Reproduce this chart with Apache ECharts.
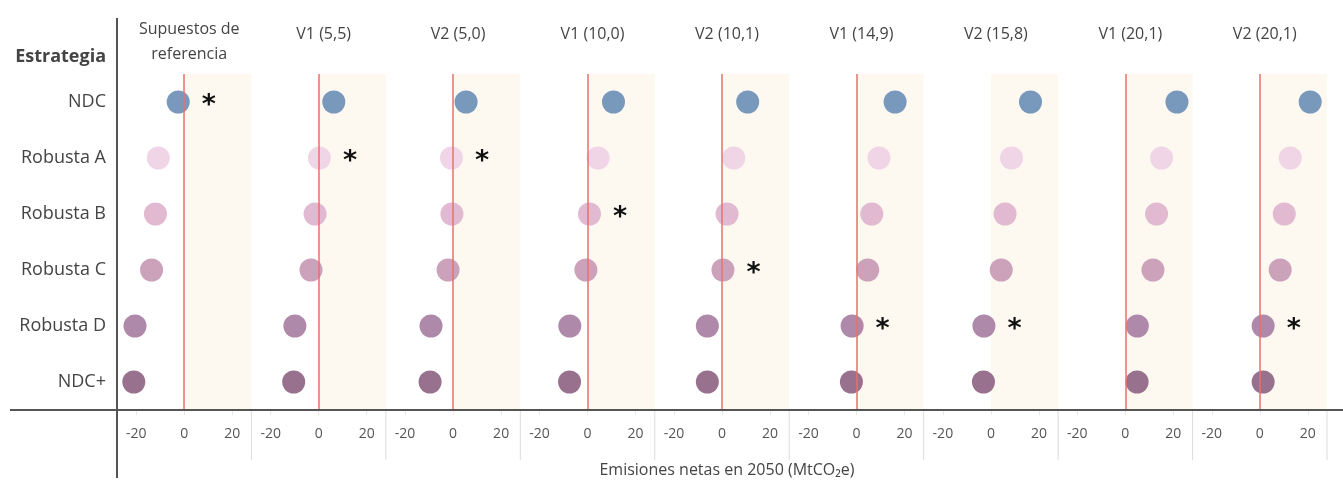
<!DOCTYPE html>
<html>
<head>
<meta charset="utf-8">
<script src="https://cdn.jsdelivr.net/npm/echarts@6/dist/echarts.min.js"></script>
<style>
html,body{margin:0;padding:0;background:#fff;}
#chart{width:1343px;height:481px;}
</style>
</head>
<body>
<div id="chart"></div>
<script>
const panels = ['Supuestos de\nreferencia','V1 (5,5)','V2 (5,0)','V1 (10,0)','V2 (10,1)','V1 (14,9)','V2 (15,8)','V1 (20,1)','V2 (20,1)'];
const strategies = ['NDC','Robusta A','Robusta B','Robusta C','Robusta D','NDC+'];
const ndc       = [-2.5, 6.3, 5.4, 10.8, 10.7, 16.1, 16.5, 21.5, 21.0];
const robustaA  = [-10.8, 0.3, -0.7, 4.4, 4.9, 9.4, 8.6, 15.1, 12.7];
const robustaB  = [-12.0, -1.5, -0.5, 0.8, 2.1, 6.4, 5.9, 13.0, 10.2];
const robustaC  = [-13.6, -3.2, -2.1, -0.7, 0.4, 4.7, 4.3, 11.5, 8.5];
const robustaD  = [-20.5, -9.9, -9.2, -7.4, -6.1, -1.8, -2.9, 5.0, 1.4];
const ndcPlus   = [-21.0, -10.4, -9.6, -7.5, -6.1, -2.1, -3.1, 4.9, 1.4];
const marked    = ['NDC','Robusta A','Robusta A','Robusta B','Robusta C','Robusta D','Robusta D', null, 'Robusta D'];
const zeroLine  = [true, true, true, true, true, true, false, true, true];
const tickValues = [-20, 0, 20];
const xMin = -28, xMax = 28;

const seriesValues = [ndc, robustaA, robustaB, robustaC, robustaD, ndcPlus];
const colors = ['#7898BC', '#F0D5E7', '#E1B9D1', '#CCA2BB', '#AE89A9', '#98718F'];

const FONT = "'Open Sans', sans-serif";
const LEFT0 = 117, RIGHT = 1327, TOP = 74, HEIGHT = 336;
const PW = (RIGHT - LEFT0) / panels.length;

const grids = [], xAxes = [], yAxes = [], series = [], titles = [], graphics = [];

panels.forEach((p, i) => {
  const left = LEFT0 + i * PW;
  grids.push({left: left, width: PW, top: TOP, height: HEIGHT});
  xAxes.push({
    gridIndex: i, type: 'value', min: xMin, max: xMax,
    axisLine: {show: false},
    splitLine: {show: false},
    axisTick: {show: true, customValues: tickValues, length: 5, lineStyle: {color: '#e8e8e8'}},
    axisLabel: {customValues: tickValues, margin: 17, fontSize: 14, color: '#555', fontFamily: FONT}
  });
  yAxes.push({
    gridIndex: i, type: 'category', data: strategies, inverse: true,
    axisLine: {show: false}, axisTick: {show: false}, splitLine: {show: false},
    axisLabel: {show: i === 0, fontSize: 18, color: '#444', margin: 11, fontFamily: FONT}
  });
  // shaded region (positive emissions)
  series.push({
    type: 'scatter', xAxisIndex: i, yAxisIndex: i, data: [], z: 1, silent: true,
    markArea: {silent: true, itemStyle: {color: '#FDF8F0'}, data: [[{xAxis: 0}, {xAxis: xMax}]]}
  });
  // dots
  series.push({
    type: 'scatter', xAxisIndex: i, yAxisIndex: i, z: 2, symbolSize: 23,
    data: strategies.map((s, k) => ({
      value: [seriesValues[k][i], s],
      itemStyle: {color: colors[k], opacity: 1},
      label: marked[i] === s ? {
        show: true, formatter: '*', position: 'right', distance: 12,
        fontSize: 27, fontWeight: 'bold', color: '#111', fontFamily: 'DejaVu Sans', offset: [0, 4]
      } : {show: false}
    }))
  });
  // zero line
  if (zeroLine[i]) {
    series.push({
      type: 'scatter', xAxisIndex: i, yAxisIndex: i, data: [], z: 3, silent: true,
      markLine: {silent: true, symbol: 'none', label: {show: false},
        lineStyle: {color: '#E8706C', width: 1.5, type: 'solid'}, data: [{xAxis: 0}]}
    });
  }
  const center = left + PW / 2;
  titles.push({
    text: p, left: center, top: i === 0 ? 12 : 17, textAlign: 'center',
    textStyle: {fontSize: 16, fontWeight: 'normal', color: '#444', fontFamily: FONT, lineHeight: 25}
  });
  if (i > 0) {
    graphics.push({type: 'line', shape: {x1: left, y1: 411, x2: left, y2: 460}, style: {stroke: '#dcdcdc', lineWidth: 1}, z: 1});
  }
});
graphics.push({type: 'line', shape: {x1: RIGHT, y1: 411, x2: RIGHT, y2: 460}, style: {stroke: '#dcdcdc', lineWidth: 1}, z: 1});
graphics.push({type: 'line', shape: {x1: 10, y1: 410, x2: 1343, y2: 410}, style: {stroke: '#555', lineWidth: 2}, z: 10});
graphics.push({type: 'line', shape: {x1: LEFT0, y1: 18, x2: LEFT0, y2: 478}, style: {stroke: '#555', lineWidth: 2}, z: 10});
graphics.push({type: 'text', x: 106, y: 57, style: {text: 'Estrategia', align: 'right', verticalAlign: 'middle',
  font: "bold 18px 'Open Sans', sans-serif", fill: '#444'}});

titles.push({
  text: 'Emisiones netas en 2050 (MtCO₂e)', left: 722, top: 457, textAlign: 'center',
  textStyle: {fontSize: 16, fontWeight: 'normal', color: '#444', fontFamily: FONT}
});

const chart = echarts.init(document.getElementById('chart'), null, {renderer: 'canvas'});
chart.setOption({
  animation: false,
  title: titles,
  grid: grids,
  xAxis: xAxes,
  yAxis: yAxes,
  series: series,
  graphic: graphics
});
</script>
</body>
</html>
